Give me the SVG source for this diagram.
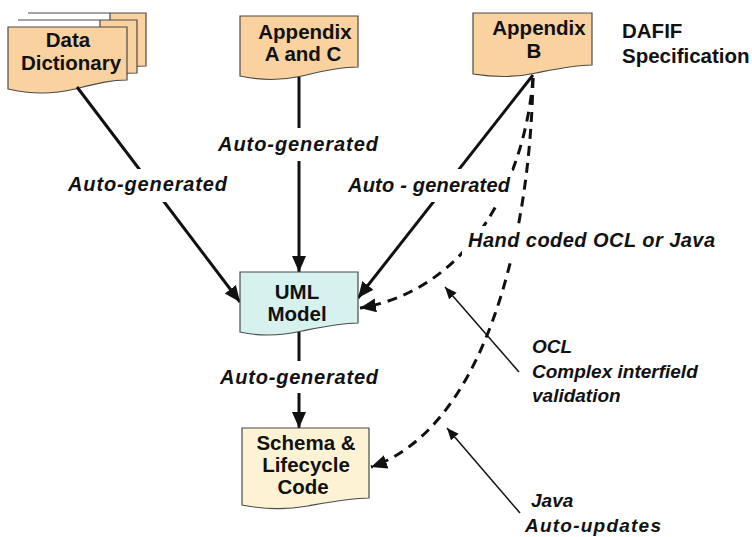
<svg xmlns="http://www.w3.org/2000/svg" width="752" height="537" viewBox="0 0 752 537">
<defs>
<style>
.doc{stroke:#4a4a4a;stroke-width:1.2}
.src{fill:#FAD2A0}
.uml{fill:#D6F1EE}
.sch{fill:#FDF3D4}
.nt{font-family:"Liberation Sans",Arial,sans-serif;font-weight:bold;font-size:20.5px;fill:#111;text-anchor:middle}
.lbl{font-family:"Liberation Sans",Arial,sans-serif;font-weight:bold;font-style:italic;font-size:20px;fill:#111}
.note{font-family:"Liberation Sans",Arial,sans-serif;font-weight:bold;font-style:italic;font-size:19px;fill:#111}
.solid{stroke:#111;stroke-width:3;fill:none}
.dash{stroke:#111;stroke-width:3;fill:none;stroke-dasharray:10 7}
.thin{stroke:#111;stroke-width:1.5;fill:none}
.bg{fill:#fff}
</style>
<marker id="ah" markerUnits="userSpaceOnUse" markerWidth="18" markerHeight="16" refX="16" refY="7" orient="auto"><path d="M0,0 L16,7 L0,14 z" fill="#111"/></marker>
<marker id="ahs" markerUnits="userSpaceOnUse" markerWidth="14" markerHeight="12" refX="12" refY="5" orient="auto"><path d="M0,0 L12,5 L0,10 z" fill="#111"/></marker>
</defs>
<rect width="752" height="537" fill="#fff"/>

<g id="data-dictionary">
<path class="doc src" d="M28,13 H146 V66 C132,66 120,68 110,70 L110,13 Z"/>
<path class="doc src" d="M18,20 H137 V73 C125,73 112,75 100,78 L100,20 Z"/>
<path class="doc src" d="M8,27 H127 V80 C110,80 95,84 75,89 C50,95 25,93 8,89 Z"/>
<text class="nt" x="68" y="47">Data</text>
<text class="nt" x="71" y="70">Dictionary</text>
</g>

<g id="appendix-a-c">
<path class="doc src" d="M240,16 H358 V67 C340,67 322,71 302,76 C280,81 258,80 240,76 Z"/>
<text class="nt" x="305" y="39">Appendix</text>
<text class="nt" x="303" y="61">A and C</text>
</g>

<g id="appendix-b">
<path class="doc src" d="M473,13 H592 V65 C574,65 556,69 536,73 C514,78 492,77 473,74 Z"/>
<text class="nt" x="539" y="35">Appendix</text>
<text class="nt" x="534" y="58">B</text>
</g>

<g id="dafif-spec">
<text class="nt" x="622" y="38" style="text-anchor:start">DAFIF</text>
<text class="nt" x="622" y="63" style="text-anchor:start">Specification</text>
</g>

<g id="connectors">
<line class="solid" x1="77" y1="87" x2="240" y2="302" marker-end="url(#ah)"/>
<line class="solid" x1="299" y1="77" x2="299" y2="272" marker-end="url(#ah)"/>
<line class="solid" x1="533" y1="75" x2="358" y2="298" marker-end="url(#ah)"/>
<line class="solid" x1="299" y1="332" x2="299" y2="428" marker-end="url(#ah)"/>
<path class="dash" d="M533,78 C525,180 470,290 360,308" marker-end="url(#ah)"/>
<path class="dash" d="M533,78 C530,250 480,430 371,467" marker-end="url(#ah)"/>
<line class="thin" x1="519" y1="372" x2="445" y2="287" marker-end="url(#ahs)"/>
<line class="thin" x1="520" y1="513" x2="447" y2="428" marker-end="url(#ahs)"/>
<rect class="bg" x="66" y="169" width="164" height="33"/>
<text class="lbl" x="68" y="191" textLength="159" lengthAdjust="spacing">Auto-generated</text>
<rect class="bg" x="216" y="128" width="164" height="33"/>
<text class="lbl" x="218" y="151" textLength="160" lengthAdjust="spacing">Auto-generated</text>
<rect class="bg" x="346" y="169" width="166" height="33"/>
<text class="lbl" x="348" y="192" textLength="162" lengthAdjust="spacing">Auto - generated</text>
<rect class="bg" x="462" y="226" width="258" height="32"/>
<text class="lbl" x="468" y="247" textLength="247" lengthAdjust="spacing">Hand coded OCL or Java</text>
<rect class="bg" x="216" y="361" width="166" height="32"/>
<text class="lbl" x="220" y="384" textLength="158" lengthAdjust="spacing">Auto-generated</text>
</g>

<g id="uml-model">
<path class="doc uml" d="M240,272 H358 V323 C340,323 322,327 302,331 C280,336 258,336 240,332 Z"/>
<text class="nt" x="297" y="299">UML</text>
<text class="nt" x="297" y="321">Model</text>
</g>

<g id="schema-code">
<path class="doc sch" d="M242,428 H369 V498 C350,498 330,502 308,506 C285,510 262,509 242,505 Z"/>
<text class="nt" x="306" y="450">Schema &amp;</text>
<text class="nt" x="306" y="472">Lifecycle</text>
<text class="nt" x="303" y="494">Code</text>
</g>

<g id="ocl-note">
<text class="note" x="532" y="353">OCL</text>
<text class="note" x="532" y="378">Complex interfield</text>
<text class="note" x="532" y="402">validation</text>
</g>

<g id="java-note">
<text class="note" x="531" y="507">Java</text>
<text class="note" x="525" y="532" textLength="136" lengthAdjust="spacing">Auto-updates</text>
</g>
</svg>
